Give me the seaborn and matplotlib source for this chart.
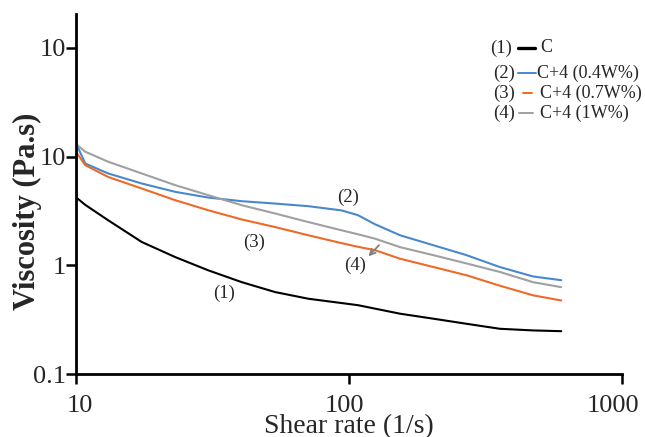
import pandas as pd
import seaborn as sns
import matplotlib.pyplot as plt
import matplotlib.transforms as mtransforms

# values
shear_rate = [10, 10.8, 13.1, 17.4, 23.1, 30.5, 40.5, 53.6, 71, 94, 108, 124.5,
              154, 204, 270, 357, 473, 600]
# sample C starts with a near-vertical drop at the very first point
rate_c = [10, 10.02] + shear_rate[1:]
visc_c = [21.0, 4.2, 3.6, 2.6, 1.64, 1.19, 0.90, 0.70, 0.568, 0.493, 0.45, 0.43, 0.40,
          0.359, 0.323, 0.29, 0.261, 0.252, 0.248]
visc_04 = [13.2, 8.65, 7.0, 5.66, 4.74, 4.2, 3.89, 3.7, 3.5, 3.2, 2.89, 2.39,
           1.89, 1.53, 1.24, 0.965, 0.79, 0.73]
visc_07 = [11.0, 8.35, 6.5, 5.09, 3.97, 3.21, 2.64, 2.25, 1.89, 1.6, 1.48, 1.38,
           1.15, 0.965, 0.81, 0.65, 0.53, 0.475]
visc_1 = [13.0, 11.1, 8.98, 7.0, 5.46, 4.42, 3.57, 3.0, 2.5, 2.1, 1.93, 1.76,
          1.47, 1.24, 1.04, 0.87, 0.70, 0.63]

labels = ["C", "C+4 (0.4W%)", "C+4 (0.7W%)", "C+4 (1W%)"]
numbers = ["(1)", "(2)", "(3)", "(4)"]
colors = ["#000000", "#4a88cc", "#ee6a28", "#a0a0a0"]

y_ticks = [0.1, 1, 10, 100]
y_ticklabels = ["0.1", "1", "10", "10"]
x_ticks = [10, 100, 1000]
x_ticklabels = ["10", "100", "1000"]

sns.set_style("ticks")
plt.rcParams['font.family'] = ['Liberation Serif', 'DejaVu Serif']


def main():
    frames = [pd.DataFrame({"rate": rate_c, "visc": visc_c, "sample": labels[0]})]
    for lab, vals in zip(labels[1:], [visc_04, visc_07, visc_1]):
        frames.append(pd.DataFrame({"rate": shear_rate, "visc": vals, "sample": lab}))
    df = pd.concat(frames)

    fig = plt.figure(figsize=(6.45, 4.37), dpi=100)
    ax = fig.add_axes([0.118, 0.144, 0.846, 0.824])

    sns.lineplot(data=df, x="rate", y="visc", hue="sample", palette=colors,
                 hue_order=labels, linewidth=1.5, legend=False, sort=False,
                 estimator=None, ax=ax)

    ax.set_xscale("log")
    ax.set_yscale("log")
    ax.set_xlim(10, 1000)
    ax.set_ylim(0.1, 205)
    ax.set_xticks(x_ticks)
    ax.set_xticklabels(x_ticklabels)
    ax.set_yticks(y_ticks)
    ax.set_yticklabels(y_ticklabels)
    ax.minorticks_off()
    ax.tick_params(labelsize=19, width=1.8, length=7, color="black")
    ax.tick_params(axis="x", pad=8)
    ax.tick_params(axis="y", pad=0)

    # the x tick labels sit slightly off their ticks in the original
    for lbl, dx in zip(ax.get_xticklabels(), [3.5, -4.5, -9]):
        lbl.set_transform(lbl.get_transform() +
                          mtransforms.ScaledTranslation(dx / 100, 0, fig.dpi_scale_trans))

    sns.despine(ax=ax)
    for s in ["left", "bottom"]:
        ax.spines[s].set_linewidth(2)
        ax.spines[s].set_color("black")

    ax.set_xlabel("Shear rate (1/s)", fontsize=20, labelpad=-2)
    ax.set_ylabel("Viscosity (Pa.s)", fontsize=22, fontweight="bold")
    ax.yaxis.set_label_coords(-0.063, 0.451)

    # curve labels
    ax.text(99, 4.2, "(2)", fontsize=13.5, ha="center", va="center")
    ax.text(45, 1.63, "(3)", fontsize=13.5, ha="center", va="center")
    ax.text(105, 1.0, "(4)", fontsize=13.5, ha="center", va="center")
    ax.text(35, 0.55, "(1)", fontsize=13.5, ha="center", va="center")
    ax.annotate("", xy=(116, 1.16), xytext=(131, 1.6),
                arrowprops=dict(arrowstyle="->", color="#808080", lw=1.3))

    # legend drawn by hand
    leg_py = [48, 73, 93, 113]
    num_px = [490, 493, 493, 493]
    line_px = [(518, 535), (518, 536), (523, 532), (519, 533)]
    txt_px = [540, 537, 540, 540]
    for i in range(4):
        yf = 1 - leg_py[i] / 437
        fig.text(num_px[i] / 645, yf, numbers[i], fontsize=13.5, ha="left", va="center")
        fig.add_artist(plt.Line2D([line_px[i][0] / 645, line_px[i][1] / 645], [yf, yf],
                                  color=colors[i], lw=2.4 if i == 0 else 1.4))
        fig.text(txt_px[i] / 645, yf, labels[i], fontsize=13, ha="left", va="center")

    plt.savefig("out.png", dpi=100)


if __name__ == '__main__':
    main()
